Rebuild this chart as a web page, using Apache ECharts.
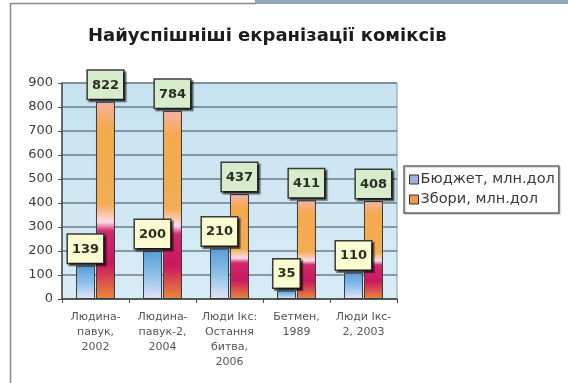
<!DOCTYPE html>
<html>
<head>
<meta charset="utf-8">
<script src="https://cdn.jsdelivr.net/npm/echarts@6/dist/echarts.min.js"></script>
<style>
html,body{margin:0;padding:0;background:#ffffff;}
#chart{width:568px;height:383px;}
</style>
</head>
<body>
<div id="chart"></div>
<script>
const titleText = 'Найуспішніші екранізації коміксів';
const categories = [
  'Людина-\nпавук,\n2002',
  'Людина-\nпавук-2,\n2004',
  'Люди Ікс:\nОстання\nбитва,\n2006',
  'Бетмен,\n1989',
  'Люди Ікс-\n2, 2003'
];
const seriesNames = ['Бюджет, млн.дол', 'Збори, млн.дол'];
const budget = [139, 200, 210, 35, 110];
const revenue = [822, 784, 437, 411, 408];
const yTicks = {min: 0, max: 900, interval: 100};

const FONT = '"DejaVu Sans", Verdana, sans-serif';
const chart = echarts.init(document.getElementById('chart'), null, {renderer: 'canvas'});

const budgetGrad = new echarts.graphic.LinearGradient(0, 0, 0, 1, [
  {offset: 0, color: '#5a9cd8'},
  {offset: 0.5, color: '#8cc0ea'},
  {offset: 1, color: '#e4e4f8'}
]);
const revenueGrad = new echarts.graphic.LinearGradient(0, 0, 0, 1, [
  {offset: 0, color: '#f5b2aa'},
  {offset: 0.13, color: '#f4a94c'},
  {offset: 0.52, color: '#f4ad55'},
  {offset: 0.61, color: '#fbdbe8'},
  {offset: 0.655, color: '#d02a6c'},
  {offset: 0.82, color: '#c8185e'},
  {offset: 1, color: '#ea8a3c'}
]);

const labelBase = {
  show: true,
  position: 'top',
  distance: 3,
  fontFamily: FONT,
  fontSize: 13,
  fontWeight: 'bold',
  color: '#2a2f22',
  borderColor: '#3a3a3a',
  borderWidth: 1.5,
  padding: [8, 4, 7, 4],
  shadowColor: 'rgba(0,0,0,0.55)',
  shadowOffsetX: 2,
  shadowOffsetY: 2,
  shadowBlur: 1
};

chart.setOption({
  animation: false,
  backgroundColor: '#ffffff',
  title: {
    text: titleText,
    left: 83,
    top: 22,
    textStyle: {
      fontFamily: FONT,
      fontSize: 18,
      fontWeight: 'bold',
      color: '#1c1c1c'
    }
  },
  graphic: [
    {type: 'rect', shape: {x: 255, y: 0, width: 313, height: 4}, style: {fill: '#8fa6b6'}, silent: true},
    {type: 'line', shape: {x1: 10, y1: 3.5, x2: 256, y2: 3.5}, style: {stroke: '#8a8a8a', lineWidth: 1.5}, silent: true},
    {type: 'line', shape: {x1: 10.5, y1: 3, x2: 10.5, y2: 383}, style: {stroke: '#8a8a8a', lineWidth: 1.5}, silent: true}
  ],
  legend: {
    orient: 'vertical',
    left: 404,
    top: 166,
    padding: [6, 4, 6, 5],
    itemGap: 5,
    itemWidth: 9,
    itemHeight: 9,
    borderColor: '#6a6a6a',
    borderWidth: 1.5,
    backgroundColor: '#ffffff',
    shadowColor: 'rgba(0,0,0,0.2)',
    shadowOffsetX: 1,
    shadowOffsetY: 1,
    shadowBlur: 1,
    textStyle: {
      fontFamily: FONT,
      fontSize: 14.5,
      color: '#3a3a3a',
      padding: [0, 0, 0, -3]
    },
    data: [
      {name: seriesNames[0], icon: 'rect', itemStyle: {color: '#9ab4dc', borderColor: '#333', borderWidth: 1}},
      {name: seriesNames[1], icon: 'rect', itemStyle: {color: '#f09a50', borderColor: '#333', borderWidth: 1}}
    ]
  },
  grid: {
    left: 62,
    right: 171,
    top: 83,
    bottom: 84,
    show: true,
    backgroundColor: new echarts.graphic.LinearGradient(0, 0, 0, 1, [
      {offset: 0, color: '#c6e2f0'},
      {offset: 1, color: '#d8ecf6'}
    ]),
    borderColor: '#8a9aa2',
    borderWidth: 1
  },
  xAxis: {
    type: 'category',
    data: categories,
    axisLine: {lineStyle: {color: '#4a4a4a', width: 1.5}},
    axisTick: {show: true, length: 4, lineStyle: {color: '#4a4a4a'}},
    axisLabel: {
      interval: 0,
      margin: 11,
      fontFamily: FONT,
      fontSize: 11,
      lineHeight: 15,
      color: '#555555'
    }
  },
  yAxis: {
    type: 'value',
    min: yTicks.min,
    max: yTicks.max,
    interval: yTicks.interval,
    axisLine: {show: true, lineStyle: {color: '#4a4a4a', width: 1.5}},
    axisTick: {show: true, length: 4, lineStyle: {color: '#4a4a4a'}},
    splitLine: {lineStyle: {color: '#6c7c84', width: 1.5}},
    axisLabel: {
      margin: 9,
      fontFamily: FONT,
      fontSize: 13,
      color: '#3c3c3c'
    }
  },
  series: [
    {
      name: seriesNames[0],
      type: 'bar',
      data: budget,
      barWidth: 19,
      barGap: '5%',
      itemStyle: {color: budgetGrad, borderColor: '#3a3a3a', borderWidth: 1},
      label: Object.assign({}, labelBase, {backgroundColor: '#fbfbd2'}),
      z: 4
    },
    {
      name: seriesNames[1],
      type: 'bar',
      data: revenue,
      barWidth: 19,
      itemStyle: {color: revenueGrad, borderColor: '#3a3a3a', borderWidth: 1},
      label: Object.assign({}, labelBase, {backgroundColor: '#d6eccc'}),
      z: 3
    }
  ]
});
</script>
</body>
</html>
